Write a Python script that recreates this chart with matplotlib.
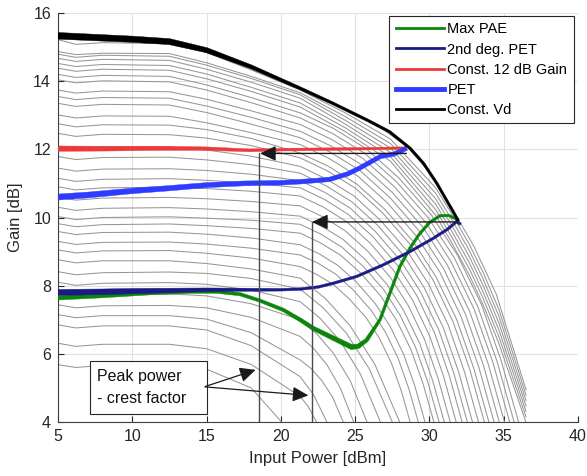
import numpy as np
import matplotlib
matplotlib.use("Agg")
import matplotlib.pyplot as plt
from matplotlib.lines import Line2D
from matplotlib.patches import Rectangle, FancyArrowPatch, Polygon

plt.rcParams['font.family'] = ['Liberation Sans', 'DejaVu Sans']

# ---------------- data ----------------
# constant-Vd gain curves (gray family), low-power part on a shared Pin grid
vd_x_low = [5, 6.2, 8, 12.5, 15, 18, 21.3]
vd_g_low = [
    [5.68, 5.60, 5.66, 5.65, 5.55, 5.00, 3.39],
    [6.31, 6.22, 6.28, 6.28, 6.15, 5.69, 4.75],
    [6.85, 6.76, 6.82, 6.82, 6.70, 6.24, 5.33],
    [7.15, 7.06, 7.12, 7.12, 7.02, 6.62, 5.82],
    [7.44, 7.35, 7.41, 7.42, 7.35, 7.07, 6.51],
    [7.78, 7.69, 7.75, 7.76, 7.70, 7.47, 7.00],
    [8.10, 8.01, 8.07, 8.09, 8.04, 7.87, 7.53],
    [8.41, 8.32, 8.38, 8.40, 8.36, 8.21, 7.90],
    [8.76, 8.67, 8.73, 8.73, 8.65, 8.49, 8.22],
    [9.05, 8.96, 9.02, 9.03, 8.95, 8.81, 8.56],
    [9.30, 9.21, 9.27, 9.28, 9.22, 9.10, 8.90],
    [9.59, 9.50, 9.56, 9.57, 9.51, 9.40, 9.20],
    [9.82, 9.73, 9.79, 9.81, 9.76, 9.68, 9.54],
    [10.03, 9.94, 10.00, 10.02, 9.98, 9.92, 9.80],
    [10.30, 10.21, 10.27, 10.29, 10.25, 10.17, 10.04],
    [10.60, 10.51, 10.57, 10.59, 10.55, 10.47, 10.34],
    [10.90, 10.81, 10.87, 10.89, 10.85, 10.77, 10.63],
    [11.15, 11.06, 11.12, 11.14, 11.09, 11.01, 10.87],
    [11.45, 11.36, 11.42, 11.43, 11.38, 11.27, 11.08],
    [11.79, 11.70, 11.76, 11.77, 11.69, 11.55, 11.30],
    [12.10, 12.01, 12.07, 12.07, 11.98, 11.80, 11.50],
    [12.47, 12.38, 12.44, 12.43, 12.33, 12.11, 11.75],
    [12.75, 12.66, 12.72, 12.71, 12.58, 12.32, 11.89],
    [13.01, 12.92, 12.98, 12.97, 12.78, 12.49, 12.14],
    [13.35, 13.26, 13.32, 13.30, 13.08, 12.74, 12.34],
    [13.55, 13.46, 13.52, 13.50, 13.27, 12.94, 12.53],
    [13.74, 13.65, 13.71, 13.69, 13.47, 13.13, 12.73],
    [14.04, 13.95, 14.01, 13.98, 13.74, 13.37, 12.92],
    [14.20, 14.11, 14.17, 14.14, 13.89, 13.52, 13.07],
    [14.38, 14.29, 14.35, 14.32, 14.07, 13.70, 13.24],
    [14.52, 14.43, 14.49, 14.46, 14.21, 13.82, 13.36],
    [14.67, 14.58, 14.64, 14.61, 14.35, 13.97, 13.50],
    [14.79, 14.70, 14.76, 14.73, 14.47, 14.08, 13.60],
    [14.87, 14.78, 14.82, 14.81, 14.54, 14.14, 13.66],
    [15.22, 15.08, 15.13, 15.10, 14.84, 14.33, 13.74],
    [15.33, 15.27, 15.26, 15.16, 14.91, 14.42, 13.79],
]
# high-power (compression) part of each gray curve
vd_x_high = [
    [],
    [21.85, 22.4],
    [22.2, 23.1],
    [22.03, 22.75, 23.48, 24.2],
    [22.2, 23.1, 24.0, 24.9],
    [22.43, 23.55, 24.68, 25.8],
    [22.65, 24.0, 25.35, 26.7],
    [22.85, 24.4, 25.95, 27.5],
    [22.98, 24.65, 26.33, 28.0],
    [22.41, 23.52, 24.63, 25.74, 26.63, 27.44, 28.11, 28.7],
    [22.49, 23.69, 24.88, 26.07, 27.02, 27.90, 28.61, 29.25],
    [22.56, 23.82, 25.08, 26.34, 27.35, 28.27, 29.03, 29.7],
    [22.65, 24.0, 25.35, 26.7, 27.78, 28.77, 29.58, 30.3],
    [22.70, 24.11, 25.51, 26.91, 28.03, 29.06, 29.90, 30.65],
    [22.76, 24.21, 25.67, 27.12, 28.28, 29.35, 30.22, 31.0],
    [22.82, 24.33, 25.85, 27.36, 28.57, 29.68, 30.59, 31.4],
    [22.88, 24.45, 26.03, 27.6, 28.86, 30.02, 30.96, 31.8],
    [22.94, 24.57, 26.21, 27.84, 29.15, 30.35, 31.33, 32.2],
    [22.99, 24.68, 26.36, 28.05, 29.4, 30.64, 31.65, 32.55],
    [23.04, 24.78, 26.52, 28.26, 29.65, 30.93, 31.97, 32.9],
    [23.1, 24.9, 26.7, 28.5, 29.94, 31.26, 32.34, 33.3],
    [23.16, 25.02, 26.88, 28.74, 30.23, 31.59, 32.71, 33.7],
    [23.21, 25.11, 27.02, 28.92, 30.44, 31.84, 32.98, 34.0],
    [23.26, 25.22, 27.17, 29.13, 30.70, 32.13, 33.31, 34.35],
    [23.31, 25.32, 27.33, 29.34, 30.95, 32.42, 33.63, 34.7],
    [23.36, 25.43, 27.49, 29.55, 31.2, 32.71, 33.95, 35.05],
    [23.42, 25.53, 27.65, 29.76, 31.45, 33.0, 34.27, 35.4],
    [23.46, 25.62, 27.78, 29.94, 31.67, 33.25, 34.55, 35.7],
    [23.51, 25.71, 27.92, 30.12, 31.88, 33.5, 34.82, 36.0],
    [24.34, 27.38, 30.42, 31.5, 32.7, 33.6, 34.68, 36.5],
    [24.34, 27.38, 30.42, 31.5, 32.7, 33.6, 34.68, 36.5],
    [24.34, 27.38, 30.42, 31.5, 32.7, 33.6, 34.68, 36.5],
    [24.34, 27.38, 30.42, 31.5, 32.7, 33.6, 34.68, 36.5],
    [24.34, 27.38, 30.42, 31.5, 32.7, 33.6, 34.68, 36.5],
    [24.34, 27.38, 30.42, 31.5, 32.7, 33.6, 34.68, 36.5],
    [24, 26.5, 28.5, 30, 31.5, 33, 34.5, 36.5],
]
vd_g_high = [
    [],
    [4.45, 4.0],
    [4.80, 4.0],
    [5.57, 5.22, 4.73, 4.0],
    [6.16, 5.68, 5.00, 4.0],
    [6.58, 6.01, 5.20, 4.0],
    [7.04, 6.37, 5.41, 4.0],
    [7.35, 6.61, 5.56, 4.0],
    [7.63, 6.83, 5.69, 4.0],
    [8.33, 8.04, 7.60, 7.06, 6.46, 5.73, 4.91, 4.0],
    [8.66, 8.34, 7.87, 7.28, 6.65, 5.86, 4.98, 4.0],
    [8.94, 8.60, 8.11, 7.48, 6.81, 5.98, 5.04, 4.0],
    [9.26, 8.90, 8.38, 7.71, 6.99, 6.11, 5.11, 4.0],
    [9.51, 9.13, 8.58, 7.89, 7.13, 6.20, 5.16, 4.0],
    [9.74, 9.35, 8.77, 8.05, 7.26, 6.30, 5.21, 4.0],
    [10.02, 9.61, 9.01, 8.25, 7.42, 6.41, 5.27, 4.0],
    [10.30, 9.87, 9.24, 8.44, 7.58, 6.52, 5.33, 4.0],
    [10.53, 10.08, 9.43, 8.60, 7.71, 6.61, 5.37, 4.0],
    [10.73, 10.27, 9.59, 8.74, 7.82, 6.69, 5.42, 4.0],
    [10.93, 10.46, 9.77, 8.89, 7.94, 6.77, 5.46, 4.0],
    [11.12, 10.64, 9.92, 9.02, 8.05, 6.85, 5.50, 4.0],
    [11.36, 10.86, 10.12, 9.19, 8.18, 6.94, 5.55, 4.0],
    [11.50, 10.98, 10.23, 9.29, 8.26, 7.00, 5.58, 4.0],
    [11.73, 11.20, 10.43, 9.45, 8.40, 7.09, 5.63, 4.0],
    [11.92, 11.38, 10.59, 9.59, 8.50, 7.17, 5.67, 4.0],
    [12.10, 11.55, 10.74, 9.72, 8.61, 7.24, 5.71, 4.0],
    [12.29, 11.73, 10.90, 9.85, 8.71, 7.32, 5.75, 4.0],
    [12.47, 11.89, 11.05, 9.98, 8.82, 7.39, 5.78, 4.0],
    [12.62, 12.03, 11.17, 10.08, 8.90, 7.45, 5.81, 4.0],
    [12.52, 11.65, 10.07, 9.26, 8.30, 7.45, 6.30, 3.99],
    [12.63, 11.78, 10.23, 9.43, 8.48, 7.64, 6.50, 4.15],
    [12.74, 11.91, 10.39, 9.60, 8.66, 7.83, 6.70, 4.31],
    [12.85, 12.04, 10.55, 9.77, 8.84, 8.02, 6.90, 4.47],
    [12.96, 12.17, 10.71, 9.94, 9.02, 8.21, 7.10, 4.63],
    [13.07, 12.30, 10.87, 10.11, 9.20, 8.40, 7.30, 4.79],
    [13.25, 12.70, 12.08, 11.33, 10.28, 9.15, 7.75, 4.95],
]

# Max PAE trajectory
pae_x = [5, 8, 11.2, 14, 15.7, 17.25, 18.6, 20.16, 21.29, 22.18, 23.53, 24.76,
         25.2, 25.77, 26.67, 27.34, 28.01, 28.69, 29.3, 30.0, 30.7, 31.3, 31.95]
pae_g = [7.64, 7.70, 7.78, 7.82, 7.82, 7.75, 7.56, 7.29, 7.00, 6.75, 6.46, 6.20,
         6.22, 6.40, 7.00, 7.78, 8.56, 9.10, 9.50, 9.85, 10.05, 10.06, 9.93]
# 2nd degree PET
pet2_x = [5, 8, 10, 15, 20, 21.3, 22.5, 23.53, 25.1, 26.89, 28.69, 30.26, 31.2, 31.83, 32.1]
pet2_g = [7.80, 7.82, 7.84, 7.88, 7.88, 7.90, 7.96, 8.07, 8.27, 8.61, 9.00, 9.39, 9.65, 9.88, 9.80]
# Const. 12 dB gain
c12_x = [5, 8, 12, 15, 17.9, 20, 22, 24, 26, 28.45]
c12_g = [12.02, 12.02, 12.03, 12.02, 11.97, 11.99, 12.00, 12.01, 12.02, 12.04]
# PET
pet_x = [5, 7, 10, 12.5, 15, 17.5, 20, 21.3, 22.5, 23.3, 24.5, 25.3, 26.0, 26.7, 27.6, 28.47]
pet_g = [10.60, 10.66, 10.78, 10.86, 10.95, 11.00, 11.02, 11.05, 11.09, 11.12, 11.28,
         11.45, 11.62, 11.79, 11.86, 12.03]
# Const. Vd (max)
cvd_x = [5, 10, 12.5, 15, 18, 21.3, 23.5, 25.8, 27.3, 28.7, 29.6, 30.5, 31.4, 31.95]
cvd_g = [15.33, 15.23, 15.16, 14.91, 14.42, 13.79, 13.35, 12.86, 12.52, 12.03, 11.59,
         11.00, 10.32, 9.90]

legend_labels = ['Max PAE', '2nd deg. PET', 'Const. 12 dB Gain', 'PET', 'Const. Vd']
x_ticks = [5, 10, 15, 20, 25, 30, 35, 40]
y_ticks = [4, 6, 8, 10, 12, 14, 16]

# annotation geometry (data coordinates)
arrow1 = [(28.45, 11.88), (18.6, 11.88)]
drop1 = [(18.55, 11.88), (18.55, 4.0)]
arrow2 = [(31.95, 9.87), (22.1, 9.87)]
drop2 = [(22.07, 9.87), (22.07, 4.0)]
box_xy = (7.15, 4.23)
box_wh = (7.85, 1.57)
box_arrows = [[(14.9, 5.04), (18.3, 5.53)], [(14.9, 5.03), (21.85, 4.78)]]

# ---------------- styles ----------------
C_GRAY = '#969696'
C_GREEN = '#0a870a'
C_NAVY = '#1b1b86'
C_RED = '#ec3a3a'
C_BLUE = '#2e3cff'
C_BLACK = '#000000'
C_AX = '#262626'

fig = plt.figure(figsize=(5.87, 4.76), dpi=100)
ax = fig.add_axes([58 / 587, 54 / 476, 520 / 587, 409 / 476])
ax.set_xlim(5, 40)
ax.set_ylim(4, 16)

for gl_, xh_, gh_ in zip(vd_g_low, vd_x_high, vd_g_high):
    ax.plot(list(vd_x_low) + list(xh_), list(gl_) + list(gh_), color=C_GRAY, lw=0.75,
            zorder=2, solid_joinstyle='round')


def tapered(x, y, kx, kw, color, z):
    """Draw the polyline (x, y) as a filled band whose width (pt) varies along x."""
    P = ax.transData.transform(np.column_stack([x, y]).astype(float))
    w = np.interp(np.asarray(x, float), kx, kw) * fig.dpi / 72.0
    seg = np.diff(P, axis=0)
    seg /= np.linalg.norm(seg, axis=1)[:, None]
    tan = np.empty_like(P)
    tan[0], tan[-1] = seg[0], seg[-1]
    tan[1:-1] = seg[:-1] + seg[1:]
    tan /= np.linalg.norm(tan, axis=1)[:, None]
    miter = np.ones(len(P))
    miter[1:-1] = 1.0 / np.clip(np.sum(tan[1:-1] * seg[1:], axis=1), 0.5, 1.0)
    nrm = np.column_stack([-tan[:, 1], tan[:, 0]])
    off = nrm * (w * miter / 2.0)[:, None]
    poly = np.vstack([P + off, (P - off)[::-1]])
    ax.add_patch(Polygon(ax.transData.inverted().transform(poly), closed=True,
                         facecolor=color, edgecolor=color, lw=0.3, zorder=z))


tapered(pae_x, pae_g, [5, 14, 20, 24.8, 26.5, 32], [3.0, 2.2, 2.4, 3.6, 2.0, 1.8], C_GREEN, 3)
tapered(pet2_x, pet2_g, [5, 12, 17, 32], [4.4, 3.6, 1.9, 1.8], C_NAVY, 4)
tapered(c12_x, c12_g, [5, 12, 18, 28.5], [3.8, 3.0, 2.0, 1.7], C_RED, 5)
tapered(pet_x, pet_g, [5, 15, 28.5], [4.3, 3.6, 3.0], C_BLUE, 6)
tapered(cvd_x, cvd_g, [5, 12.5, 17, 22, 32], [4.8, 4.3, 3.0, 2.0, 1.8], C_BLACK, 7)

# annotation lines / arrows
for seg in (drop1, drop2):
    ax.plot([seg[0][0], seg[1][0]], [seg[0][1], seg[1][1]], color='#4a4a4a', lw=1.0, zorder=8)
for seg in (arrow1, arrow2):
    ax.add_patch(FancyArrowPatch(seg[0], seg[1], arrowstyle='-|>,head_length=0.8,head_width=0.38',
                                 mutation_scale=12, color='#1a1a1a', lw=1.0, zorder=8,
                                 shrinkA=0, shrinkB=0))
ax.add_patch(Rectangle(box_xy, box_wh[0], box_wh[1], facecolor='white', edgecolor=C_AX,
                       lw=0.8, zorder=9))
ax.text(box_xy[0] + 0.5, 5.34, 'Peak power', fontsize=11.5, va='center', ha='left',
        color='#111111', zorder=10)
ax.text(box_xy[0] + 0.5, 4.70, '- crest factor', fontsize=11.5, va='center', ha='left',
        color='#111111', zorder=10)
for seg in box_arrows:
    ax.add_patch(FancyArrowPatch(seg[0], seg[1], arrowstyle='-|>,head_length=0.8,head_width=0.38',
                                 mutation_scale=12, color='#1a1a1a', lw=0.9, zorder=10,
                                 shrinkA=0, shrinkB=0))

ax.set_xticks(x_ticks)
ax.set_yticks(y_ticks)
ax.grid(True, color='#e2e2e2', lw=0.8)
ax.set_axisbelow(True)
for s in ('top', 'right'):
    ax.spines[s].set_visible(False)
for s in ('left', 'bottom'):
    ax.spines[s].set_color('#404040')
    ax.spines[s].set_linewidth(0.8)
ax.tick_params(direction='in', length=4, width=0.8, colors=C_AX, labelsize=11.5, pad=5)
ax.set_xlabel('Input Power [dBm]', fontsize=12, color=C_AX, labelpad=5)
ax.set_ylabel('Gain [dB]', fontsize=12, color=C_AX, labelpad=7)

handles = [Line2D([], [], color=C_GREEN, lw=2.0),
           Line2D([], [], color=C_NAVY, lw=2.0),
           Line2D([], [], color=C_RED, lw=2.0),
           Line2D([], [], color=C_BLUE, lw=3.5),
           Line2D([], [], color=C_BLACK, lw=2.0)]
leg = ax.legend(handles, legend_labels, loc='upper right', bbox_to_anchor=(0.992, 0.993),
                fontsize=10.5, frameon=True, fancybox=False, edgecolor=C_AX, framealpha=1,
                handlelength=3.3, handletextpad=0.25, labelspacing=0.42, borderpad=0.45,
                borderaxespad=0)
leg.get_frame().set_linewidth(0.8)
leg.set_zorder(12)

fig.savefig('out.png', dpi=100)
